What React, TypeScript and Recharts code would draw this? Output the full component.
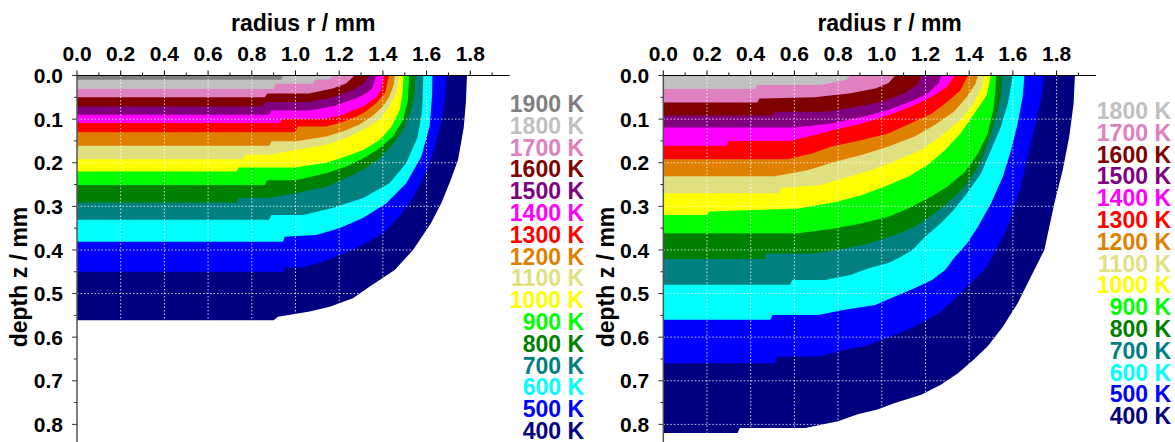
import { ComposedChart, Area, XAxis, YAxis, ReferenceLine, Label } from "recharts";

const FONT = "'Liberation Sans', Arial, Helvetica, sans-serif";

// tick positions (mm)
const rTicks = [0, 0.1, 0.2, 0.3, 0.4, 0.5, 0.6, 0.7, 0.8, 0.9, 1.0, 1.1, 1.2, 1.3, 1.4, 1.5, 1.6, 1.7, 1.8, 1.9];
const zTicks = [0, 0.05, 0.1, 0.15, 0.2, 0.25, 0.3, 0.35, 0.4, 0.45, 0.5, 0.55, 0.6, 0.65, 0.7, 0.75, 0.8, 0.85];
const rGrid = [0.2, 0.4, 0.6, 0.8, 1.0, 1.2, 1.4, 1.6, 1.8];
const zGrid = [0.1, 0.2, 0.3, 0.4, 0.5, 0.6, 0.7, 0.8];

const tempColors: Record<number, string> = {
  1900: "#808080",
  1800: "#c0c0c0",
  1700: "#e080c0",
  1600: "#800000",
  1500: "#800080",
  1400: "#ff00ff",
  1300: "#ff0000",
  1200: "#e08000",
  1100: "#e0e080",
  1000: "#ffff00",
  900: "#00ff00",
  800: "#008000",
  700: "#008080",
  600: "#00ffff",
  500: "#0000ff",
  400: "#000080",
};

type Pt = [number, number]; // [r, z] along isotherm boundary

// left panel isotherms
const L400: Pt[] = [[0, 0.561], [0.9, 0.561], [0.92, 0.553], [1.065, 0.541], [1.157, 0.53], [1.263, 0.511], [1.34, 0.484], [1.454, 0.446], [1.538, 0.4], [1.62, 0.339], [1.67, 0.29], [1.71, 0.24], [1.744, 0.193], [1.77, 0.12], [1.78, 0.06], [1.785, 0]];
const L500: Pt[] = [[0, 0.45], [0.943, 0.45], [0.95, 0.44], [1.035, 0.44], [1.126, 0.427], [1.2, 0.412], [1.294, 0.392], [1.4, 0.362], [1.477, 0.323], [1.54, 0.278], [1.6, 0.22], [1.64, 0.16], [1.67, 0.1], [1.685, 0.05], [1.69, 0]];
const L600: Pt[] = [[0, 0.381], [0.943, 0.381], [0.95, 0.37], [1.095, 0.366], [1.2, 0.35], [1.309, 0.327], [1.416, 0.293], [1.507, 0.247], [1.576, 0.186], [1.614, 0.117], [1.625, 0.048], [1.627, 0]];
const L700: Pt[] = [[0, 0.331], [0.88, 0.331], [0.89, 0.32], [1.035, 0.32], [1.17, 0.304], [1.31, 0.281], [1.43, 0.247], [1.507, 0.201], [1.56, 0.14], [1.58, 0.079], [1.585, 0]];
const L800: Pt[] = [[0, 0.291], [0.73, 0.291], [0.74, 0.281], [0.88, 0.281], [1.0, 0.27], [1.14, 0.255], [1.23, 0.236], [1.31, 0.216], [1.385, 0.19], [1.446, 0.159], [1.492, 0.125], [1.53, 0.079], [1.546, 0.035], [1.55, 0]];
const L900: Pt[] = [[0, 0.251], [0.86, 0.251], [0.87, 0.24], [1.0, 0.24], [1.14, 0.224], [1.23, 0.209], [1.31, 0.19], [1.385, 0.167], [1.446, 0.14], [1.492, 0.102], [1.515, 0.056], [1.52, 0]];
const L1000: Pt[] = [[0, 0.22], [0.73, 0.22], [0.74, 0.211], [1.0, 0.211], [1.14, 0.2], [1.23, 0.186], [1.31, 0.171], [1.385, 0.148], [1.44, 0.117], [1.477, 0.079], [1.49, 0.04], [1.495, 0]];
const L1100: Pt[] = [[0, 0.192], [0.76, 0.192], [0.77, 0.182], [0.88, 0.182], [1.0, 0.171], [1.14, 0.159], [1.23, 0.144], [1.31, 0.125], [1.385, 0.102], [1.43, 0.071], [1.46, 0.041], [1.477, 0]];
const L1200: Pt[] = [[0, 0.161], [0.88, 0.161], [0.89, 0.151], [1.0, 0.151], [1.14, 0.14], [1.22, 0.128], [1.29, 0.113], [1.35, 0.094], [1.4, 0.071], [1.43, 0.048], [1.45, 0.021], [1.454, 0]];
const L1300: Pt[] = [[0, 0.13], [1.0, 0.13], [1.01, 0.117], [1.14, 0.117], [1.22, 0.106], [1.28, 0.094], [1.32, 0.083], [1.37, 0.063], [1.41, 0.04], [1.428, 0]];
const L1400: Pt[] = [[0, 0.109], [0.93, 0.109], [0.94, 0.1], [1.13, 0.1], [1.22, 0.09], [1.26, 0.08], [1.31, 0.071], [1.34, 0.061], [1.37, 0.05], [1.39, 0.033], [1.404, 0]];
const L1500: Pt[] = [[0, 0.09], [0.88, 0.09], [0.89, 0.08], [1.06, 0.08], [1.17, 0.071], [1.23, 0.061], [1.29, 0.05], [1.32, 0.041], [1.35, 0.031], [1.37, 0]];
const L1600: Pt[] = [[0, 0.071], [0.85, 0.071], [0.86, 0.061], [1.06, 0.061], [1.17, 0.05], [1.22, 0.041], [1.27, 0.031], [1.31, 0.019], [1.34, 0]];
const L1700: Pt[] = [[0, 0.05], [0.86, 0.05], [0.87, 0.041], [1.06, 0.041], [1.17, 0.03], [1.23, 0.019], [1.271, 0]];
const L1800: Pt[] = [[0, 0.031], [0.9, 0.031], [0.91, 0.019], [1.08, 0.019], [1.09, 0.01], [1.16, 0.008], [1.172, 0]];
const L1900: Pt[] = [[0, 0.01], [0.935, 0.01], [0.943, 0]];

// right panel isotherms
const R400: Pt[] = [[0, 0.82], [0.34, 0.82], [0.35, 0.808], [0.65, 0.808], [0.8, 0.793], [0.89, 0.777], [0.98, 0.766], [1.06, 0.751], [1.18, 0.732], [1.27, 0.709], [1.35, 0.682], [1.42, 0.652], [1.485, 0.621], [1.554, 0.576], [1.622, 0.522], [1.683, 0.461], [1.744, 0.4], [1.79, 0.293], [1.828, 0.217], [1.858, 0.14], [1.878, 0.064], [1.884, 0]];
const R500: Pt[] = [[0, 0.66], [0.51, 0.66], [0.52, 0.645], [0.72, 0.644], [0.83, 0.629], [0.92, 0.621], [1.0, 0.606], [1.1, 0.587], [1.18, 0.568], [1.26, 0.545], [1.33, 0.515], [1.39, 0.484], [1.47, 0.446], [1.523, 0.4], [1.584, 0.339], [1.622, 0.278], [1.653, 0.217], [1.69, 0.14], [1.725, 0.064], [1.744, 0]];
const R600: Pt[] = [[0, 0.56], [0.49, 0.56], [0.5, 0.549], [0.71, 0.549], [0.83, 0.537], [0.97, 0.526], [1.06, 0.507], [1.15, 0.488], [1.23, 0.469], [1.29, 0.446], [1.33, 0.419], [1.39, 0.385], [1.44, 0.347], [1.5, 0.293], [1.554, 0.232], [1.592, 0.171], [1.622, 0.11], [1.645, 0.049], [1.653, 0]];
const R700: Pt[] = [[0, 0.48], [0.58, 0.48], [0.59, 0.469], [0.74, 0.469], [0.86, 0.457], [0.94, 0.442], [1.03, 0.43], [1.09, 0.415], [1.14, 0.4], [1.2, 0.369], [1.27, 0.339], [1.33, 0.308], [1.39, 0.27], [1.455, 0.224], [1.5, 0.171], [1.545, 0.118], [1.577, 0.064], [1.6, 0]];
const R800: Pt[] = [[0, 0.421], [0.465, 0.421], [0.47, 0.408], [0.69, 0.408], [0.8, 0.4], [0.94, 0.385], [1.06, 0.366], [1.15, 0.347], [1.23, 0.32], [1.3, 0.293], [1.38, 0.255], [1.44, 0.209], [1.485, 0.156], [1.52, 0.102], [1.545, 0.049], [1.554, 0]];
const R900: Pt[] = [[0, 0.362], [0.62, 0.362], [0.79, 0.35], [0.91, 0.339], [1.03, 0.324], [1.12, 0.305], [1.21, 0.282], [1.3, 0.255], [1.38, 0.221], [1.44, 0.179], [1.485, 0.133], [1.51, 0.079], [1.52, 0.035], [1.523, 0]];
const R1000: Pt[] = [[0, 0.32], [0.2, 0.32], [0.21, 0.312], [0.62, 0.305], [0.79, 0.29], [0.91, 0.274], [1.01, 0.255], [1.12, 0.232], [1.21, 0.205], [1.29, 0.171], [1.36, 0.133], [1.42, 0.09], [1.48, 0.045], [1.5, 0]];
const R1100: Pt[] = [[0, 0.27], [0.53, 0.27], [0.54, 0.258], [0.72, 0.251], [0.85, 0.232], [0.95, 0.217], [1.07, 0.194], [1.18, 0.171], [1.27, 0.14], [1.36, 0.102], [1.42, 0.064], [1.46, 0.026], [1.47, 0]];
const R1200: Pt[] = [[0, 0.231], [0.51, 0.231], [0.66, 0.217], [0.77, 0.2], [0.91, 0.182], [1.03, 0.163], [1.15, 0.14], [1.24, 0.114], [1.33, 0.083], [1.39, 0.049], [1.43, 0.018], [1.44, 0]];
const R1300: Pt[] = [[0, 0.192], [0.57, 0.192], [0.68, 0.179], [0.77, 0.163], [0.91, 0.148], [1.03, 0.133], [1.13, 0.11], [1.23, 0.087], [1.3, 0.06], [1.36, 0.034], [1.394, 0]];
const R1400: Pt[] = [[0, 0.161], [0.29, 0.161], [0.3, 0.15], [0.58, 0.15], [0.68, 0.138], [0.78, 0.125], [0.91, 0.11], [1.03, 0.091], [1.13, 0.072], [1.23, 0.049], [1.3, 0.026], [1.333, 0]];
const R1500: Pt[] = [[0, 0.119], [0.6, 0.119], [0.77, 0.11], [0.91, 0.095], [1.03, 0.079], [1.13, 0.06], [1.21, 0.041], [1.26, 0.018], [1.272, 0]];
const R1600: Pt[] = [[0, 0.092], [0.5, 0.092], [0.51, 0.083], [0.75, 0.083], [0.88, 0.072], [1.0, 0.06], [1.1, 0.041], [1.16, 0.022], [1.18, 0]];
const R1700: Pt[] = [[0, 0.062], [0.43, 0.062], [0.44, 0.053], [0.69, 0.05], [0.85, 0.041], [0.97, 0.03], [1.03, 0.018], [1.062, 0]];
const R1800: Pt[] = [[0, 0.031], [0.42, 0.031], [0.43, 0.022], [0.72, 0.022], [0.84, 0.01], [0.855, 0]];

type Band = { t: number; pts: Pt[] };

// coldest first so hotter regions are painted over
const leftBands: Band[] = [
  { t: 400, pts: L400 }, { t: 500, pts: L500 }, { t: 600, pts: L600 }, { t: 700, pts: L700 },
  { t: 800, pts: L800 }, { t: 900, pts: L900 }, { t: 1000, pts: L1000 }, { t: 1100, pts: L1100 },
  { t: 1200, pts: L1200 }, { t: 1300, pts: L1300 }, { t: 1400, pts: L1400 }, { t: 1500, pts: L1500 },
  { t: 1600, pts: L1600 }, { t: 1700, pts: L1700 }, { t: 1800, pts: L1800 }, { t: 1900, pts: L1900 },
];
const rightBands: Band[] = [
  { t: 400, pts: R400 }, { t: 500, pts: R500 }, { t: 600, pts: R600 }, { t: 700, pts: R700 },
  { t: 800, pts: R800 }, { t: 900, pts: R900 }, { t: 1000, pts: R1000 }, { t: 1100, pts: R1100 },
  { t: 1200, pts: R1200 }, { t: 1300, pts: R1300 }, { t: 1400, pts: R1400 }, { t: 1500, pts: R1500 },
  { t: 1600, pts: R1600 }, { t: 1700, pts: R1700 }, { t: 1800, pts: R1800 },
];

const toRows = (pts: Pt[]) => pts.map(([r, z]) => ({ r, z }));

function RTick(props: any) {
  const { x, y, payload } = props;
  const major = Math.round(payload.value * 10) % 2 === 0;
  return (
    <g>
      <line x1={x} x2={x} y1={y} y2={y - (major ? 5 : 3)} stroke="#000" />
      {major && (
        <text x={x} y={y - 15} textAnchor="middle" fontFamily={FONT} fontSize={21} fontWeight="bold" fill="#000">
          {payload.value.toFixed(1)}
        </text>
      )}
    </g>
  );
}

function ZTick(props: any) {
  const { x, y, payload } = props;
  const major = Math.round(payload.value * 20) % 2 === 0;
  return (
    <g>
      <line x1={x - (major ? 5 : 3)} x2={x} y1={y} y2={y} stroke="#333" />
      {major && (
        <text x={x - 14} y={y} dy="0.36em" textAnchor="end" fontFamily={FONT} fontSize={21} fontWeight="bold" fill="#000">
          {payload.value.toFixed(1)}
        </text>
      )}
    </g>
  );
}

const titleStyle = { fontFamily: FONT, fontSize: 23, fontWeight: "bold" as const, fill: "#000" };

function Panel({ bands, width, marginLeft, marginRight }: { bands: Band[]; width: number; marginLeft: number; marginRight: number }) {
  return (
    <ComposedChart width={width} height={480} margin={{ top: 74.5, right: marginRight, bottom: 12, left: marginLeft }}>
      <XAxis
        type="number"
        dataKey="r"
        orientation="top"
        domain={[0, 1.98]}
        allowDataOverflow
        ticks={rTicks}
        interval={0}
        height={1}
        tickSize={0}
        tickMargin={0}
        axisLine={false}
        tickLine={false}
        tick={RTick}
      >
        <Label
          content={(p: any) => {
            const vb = p.viewBox || { x: 0, y: 0, width: 0 };
            return (
              <text x={vb.x + vb.width / 2 + 10} y={vb.y - 43.5} textAnchor="middle" {...titleStyle}>
                radius r / mm
              </text>
            );
          }}
        />
      </XAxis>
      <YAxis
        type="number"
        dataKey="z"
        reversed
        domain={[0, 0.9]}
        allowDataOverflow
        ticks={zTicks}
        interval={0}
        width={1}
        tickSize={0}
        tickMargin={0}
        axisLine={false}
        tickLine={false}
        tick={ZTick}
      >
        <Label
          content={(p: any) => {
            const vb = p.viewBox || { x: 0, y: 0 };
            const cx = vb.x - 57;
            const cy = vb.y + 201.5;
            return (
              <text x={cx} y={cy} dy="0.36em" textAnchor="middle" transform={`rotate(-90 ${cx} ${cy})`} {...titleStyle}>
                depth z / mm
              </text>
            );
          }}
        />
      </YAxis>
      {bands.map((b) => (
        <Area
          key={b.t}
          data={toRows(b.pts)}
          dataKey="z"
          type="linear"
          baseValue={0}
          fill={tempColors[b.t]}
          fillOpacity={1}
          stroke="none"
          dot={false}
          activeDot={false}
          isAnimationActive={false}
        />
      ))}
      {rGrid.map((v) => (
        <ReferenceLine key={"gx" + v} x={v} stroke="#ffffff" strokeOpacity={0.8} strokeDasharray="1.5 2" />
      ))}
      {zGrid.map((v) => (
        <ReferenceLine key={"gz" + v} y={v} stroke="#ffffff" strokeOpacity={0.8} strokeDasharray="1.5 2" />
      ))}
      <ReferenceLine y={0} stroke="#000" strokeWidth={1} />
      <ReferenceLine x={0} stroke="#555" strokeWidth={1.5} />
    </ComposedChart>
  );
}

function TempLegend({ bands, left, top }: { bands: Band[]; left: number; top: number }) {
  const items = [...bands].reverse();
  return (
    <div style={{ position: "absolute", left, top, width: 100, textAlign: "right", fontFamily: FONT, fontSize: 23, fontWeight: "bold" }}>
      {items.map((b) => (
        <div key={b.t} style={{ height: 21.8, lineHeight: "21.8px", color: tempColors[b.t], whiteSpace: "nowrap" }}>
          {b.t} K
        </div>
      ))}
    </div>
  );
}

export default function App() {
  return (
    <div style={{ position: "absolute", left: 0, top: 0, width: 1175, height: 442, overflow: "hidden", background: "#fff" }}>
      <div style={{ position: "absolute", left: 0, top: 0 }}>
        <Panel bands={leftBands} width={590} marginLeft={76} marginRight={80.4} />
      </div>
      <div style={{ position: "absolute", left: 590, top: 0 }}>
        <Panel bands={rightBands} width={585} marginLeft={72.3} marginRight={79.1} />
      </div>
      <TempLegend bands={leftBands} left={484} top={94.1} />
      <TempLegend bands={rightBands} left={1071} top={101.1} />
    </div>
  );
}
